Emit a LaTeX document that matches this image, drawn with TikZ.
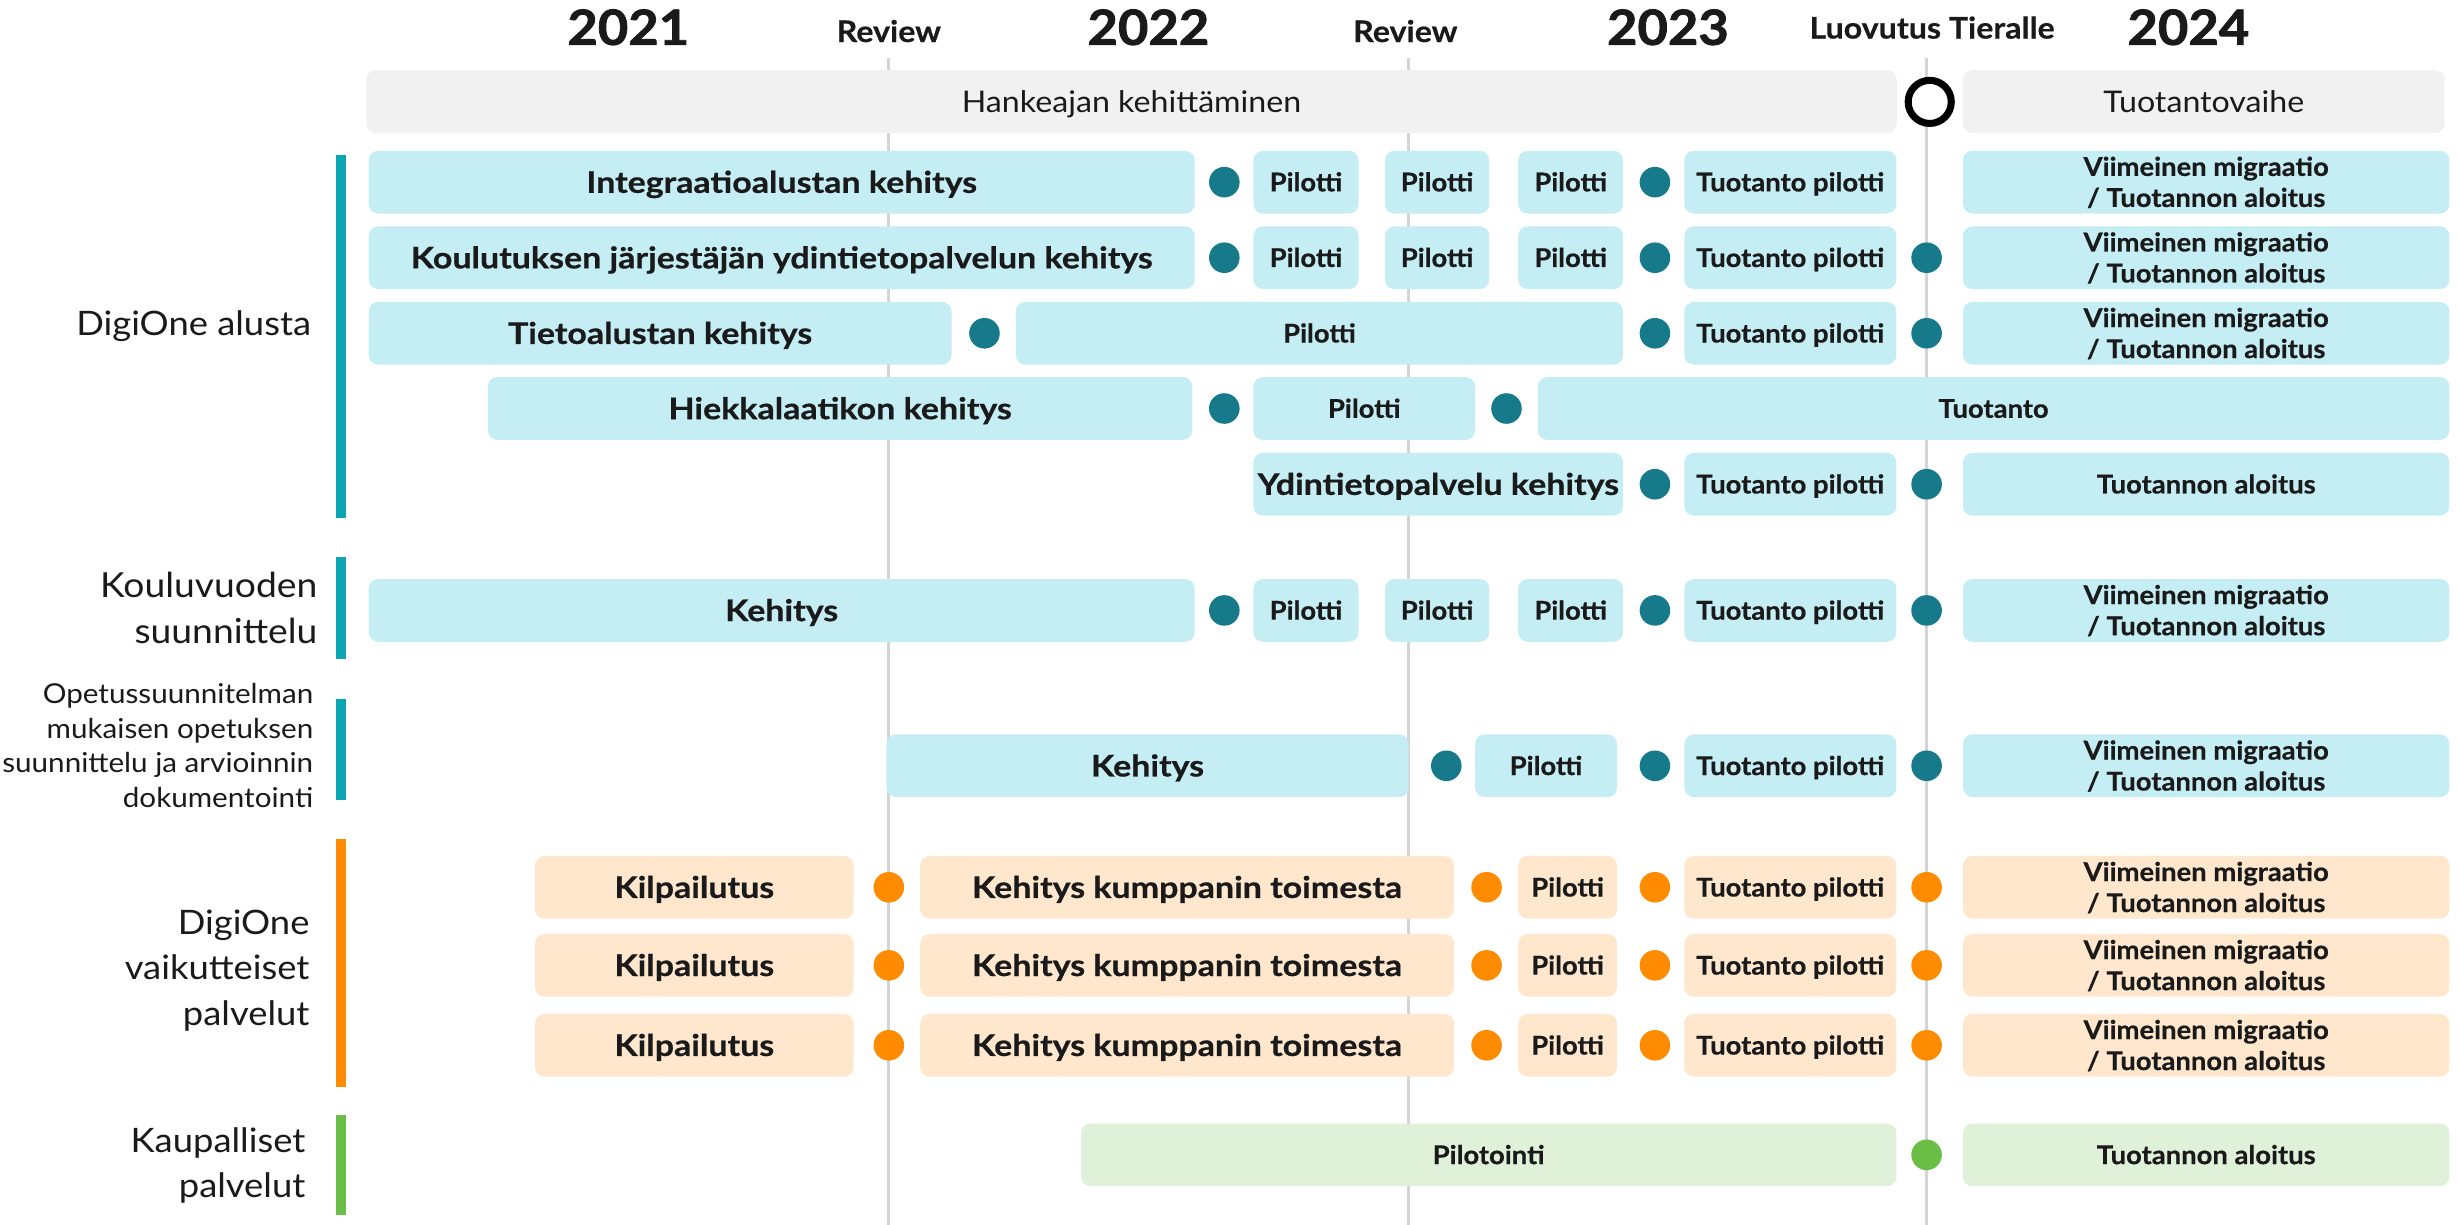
\documentclass[tikz,border=0pt]{standalone}
\usepackage{fontspec}
\setmainfont{Lato}[FakeStretch=1.08]
\newfontfamily\smallfont{Lato}[FakeStretch=1.06, BoldFeatures={FakeBold=0.5}]
\newfontfamily\bigfont{Lato}[FakeStretch=1.14, BoldFeatures={FakeBold=0.6}]
\newfontfamily\revfont{Lato}[FakeStretch=1.08, BoldFeatures={FakeBold=0.5}]
\newfontfamily\yearfont{Lato}[FakeStretch=1.08, BoldFeatures={FakeBold=1.6}]
\definecolor{barteal}{HTML}{0BA6B4}
\definecolor{dotteal}{HTML}{167A8B}
\definecolor{lblue}{HTML}{C4EDF4}
\definecolor{orng}{HTML}{FF8C00}
\definecolor{lorng}{HTML}{FEE7CD}
\definecolor{grn}{HTML}{6BBE45}
\definecolor{lgrn}{HTML}{E0F1DA}
\definecolor{lgray}{HTML}{F1F1F1}
\definecolor{gline}{HTML}{D4D4D4}
\definecolor{txt}{HTML}{1A1A1A}
\newcommand\bx[6]{\node[#5, minimum width={(#3)-(#2)}, anchor=west] (#1) at (#2,#4) {#6};}
\newcommand\dt[4]{\node[#4] (#1) at (#2,#3) {};}
\newcommand\ctwo[1]{\vbox{\halign{\hfil##\hfil\cr#1\crcr}}}
\newcommand\rlns[1]{\vbox{\halign{\hfil##\cr#1\crcr}}}
\begin{document}
\begin{tikzpicture}[x=1pt,y=-1pt,
  box/.style={rectangle, rounded corners=6pt, inner sep=0pt, outer sep=0pt, minimum height=40pt, text=txt, text depth=0pt},
  bsmall/.style={box, font=\smallfont\bfseries\fontsize{16.5}{19.8}\selectfont, text height=11.8pt},
  bbig/.style={box, font=\bigfont\bfseries\fontsize{19}{22}\selectfont, text height=13.6pt},
  two/.style={text height=31.6pt},
  bs/.style={bsmall, fill=lblue}, bb/.style={bbig, fill=lblue},
  os/.style={bsmall, fill=lorng}, ob/.style={bbig, fill=lorng},
  gs/.style={bsmall, fill=lgrn},
  hdr/.style={box, fill=lgray, font=\fontsize{19}{22}\selectfont, text height=13.6pt},
  dot/.style={circle, inner sep=0pt, outer sep=0pt, minimum size=19.5pt},
  td/.style={dot, fill=dotteal}, od/.style={dot, fill=orng}, gd/.style={dot, fill=grn},
  year/.style={font=\yearfont\bfseries\fontsize{31}{34}\selectfont, text=txt, inner sep=0pt, anchor=base},
  rev/.style={font=\revfont\bfseries\fontsize{19}{22}\selectfont, text=txt, inner sep=0pt, anchor=base},
  lab/.style={text=txt, inner sep=0pt, anchor=base east},
  grid/.style={draw=gline, line width=2pt}
]
\useasboundingbox (0,0) rectangle (1568,781.4);
% header
\node[year] (y21) at (400.8,28.6) {2021};
\node[year] (y22) at (732.6,28.6) {2022};
\node[year] (y23) at (1064,28.6) {2023};
\node[year] (y24) at (1396,28.6) {2024};
\node[rev] (rv1) at (567,26.8) {Review};
\node[rev] (rv2) at (896.5,26.8) {Review};
\node[rev] (lt) at (1232.5,24.6) {Luovutus Tieralle};
% grid lines
\coordinate (g1a) at (567,37); \coordinate (g1b) at (567,781.4);
\coordinate (g2a) at (898.5,37); \coordinate (g2b) at (898.5,781.4);
\coordinate (g3a) at (1229,37); \coordinate (g3b) at (1229,781.4);
\draw[grid] (g1a) -- (g1b);
\draw[grid] (g2a) -- (g2b);
\draw[grid] (g3a) -- (g3b);
% phase bars
\bx{hk}{233.7}{1210}{64.8}{hdr}{Hankeajan kehittäminen}
\bx{tv}{1252.2}{1559.5}{64.8}{hdr}{Tuotantovaihe}
\node[circle, draw=black, line width=4.5pt, fill=white, minimum size=27.5pt, inner sep=0pt] (lc) at (1231,65) {};
% group bars
\fill[barteal] (214.2,98.9) rectangle (221,330.6);
\fill[barteal] (214.2,355.6) rectangle (221,420.3);
\fill[barteal] (214.2,445.6) rectangle (221,510.3);
\fill[orng] (214.2,535.4) rectangle (221,693.4);
\fill[grn] (214.2,711) rectangle (221,775);
% group labels
\node[lab, font=\fontsize{21.5}{29}\selectfont] (l1) at (198.7,214.2) {DigiOne alusta};
\node[lab, font=\fontsize{22}{29.2}\selectfont] (l2) at (202.6,410.5) {\rlns{Kouluvuoden\cr suunnittelu}};
\node[lab, font=\fontsize{17.5}{22}\selectfont] (l3) at (200,515) {\rlns{Opetussuunnitelman\cr mukaisen opetuksen\cr suunnittelu ja arvioinnin\cr dokumentointi}};
\node[lab, font=\fontsize{21.5}{29}\selectfont] (l4) at (197.6,653.9) {\rlns{DigiOne\cr vaikutteiset\cr palvelut}};
\node[lab, font=\fontsize{21.5}{28.4}\selectfont] (l5) at (195,763.9) {\rlns{Kaupalliset\cr palvelut}};
% row 1
\bx{r1a}{235.2}{762.1}{116.2}{bb}{Integraatioalustan kehitys}
\dt{r1d1}{781}{116.2}{td}
\bx{r1p1}{799.6}{866.6}{116.2}{bs}{Pilotti}
\bx{r1p2}{883.5}{950}{116.2}{bs}{Pilotti}
\bx{r1p3}{968.5}{1035.4}{116.2}{bs}{Pilotti}
\dt{r1d2}{1055.7}{116.2}{td}
\bx{r1t}{1074.4}{1209.7}{116.2}{bs}{Tuotanto pilotti}
\bx{r1v}{1252.2}{1562.5}{116.2}{bs,two}{\ctwo{Viimeinen migraatio\cr / Tuotannon aloitus}}
% row 2
\bx{r2a}{235.2}{762.1}{164.4}{bb}{Koulutuksen järjestäjän ydintietopalvelun kehitys}
\dt{r2d1}{781}{164.4}{td}
\bx{r2p1}{799.6}{866.6}{164.4}{bs}{Pilotti}
\bx{r2p2}{883.5}{950}{164.4}{bs}{Pilotti}
\bx{r2p3}{968.5}{1035.4}{164.4}{bs}{Pilotti}
\dt{r2d2}{1055.7}{164.4}{td}
\bx{r2t}{1074.4}{1209.7}{164.4}{bs}{Tuotanto pilotti}
\dt{r2d3}{1229}{164.4}{td}
\bx{r2v}{1252.2}{1562.5}{164.4}{bs,two}{\ctwo{Viimeinen migraatio\cr / Tuotannon aloitus}}
% row 3
\bx{r3a}{235.2}{607}{212.6}{bb}{Tietoalustan kehitys}
\dt{r3d1}{628}{212.6}{td}
\bx{r3p}{648}{1035.4}{212.6}{bs}{Pilotti}
\dt{r3d2}{1055.7}{212.6}{td}
\bx{r3t}{1074.4}{1209.7}{212.6}{bs}{Tuotanto pilotti}
\dt{r3d3}{1229}{212.6}{td}
\bx{r3v}{1252.2}{1562.5}{212.6}{bs,two}{\ctwo{Viimeinen migraatio\cr / Tuotannon aloitus}}
% row 4
\bx{r4a}{311.2}{760.6}{260.6}{bb}{Hiekkalaatikon kehitys}
\dt{r4d1}{781}{260.6}{td}
\bx{r4p}{799.6}{941}{260.6}{bs}{Pilotti}
\dt{r4d2}{961}{260.6}{td}
\bx{r4t}{981}{1562.5}{260.6}{bs}{Tuotanto}
% row 5
\bx{r5a}{799.6}{1035.4}{308.9}{bb}{Ydintietopalvelu kehitys}
\dt{r5d1}{1055.7}{308.9}{td}
\bx{r5t}{1074.4}{1209.7}{308.9}{bs}{Tuotanto pilotti}
\dt{r5d2}{1229}{308.9}{td}
\bx{r5v}{1252.2}{1562.5}{308.9}{bs}{Tuotannon aloitus}
% row 6
\bx{r6a}{235.2}{762.1}{389.4}{bb}{Kehitys}
\dt{r6d1}{781}{389.4}{td}
\bx{r6p1}{799.6}{866.6}{389.4}{bs}{Pilotti}
\bx{r6p2}{883.5}{950}{389.4}{bs}{Pilotti}
\bx{r6p3}{968.5}{1035.4}{389.4}{bs}{Pilotti}
\dt{r6d2}{1055.7}{389.4}{td}
\bx{r6t}{1074.4}{1209.7}{389.4}{bs}{Tuotanto pilotti}
\dt{r6d3}{1229}{389.4}{td}
\bx{r6v}{1252.2}{1562.5}{389.4}{bs,two}{\ctwo{Viimeinen migraatio\cr / Tuotannon aloitus}}
% row 7
\bx{r7a}{565.5}{898.6}{488.5}{bb}{Kehitys}
\dt{r7d1}{922.6}{488.5}{td}
\bx{r7p}{941}{1031.5}{488.5}{bs}{Pilotti}
\dt{r7d2}{1055.7}{488.5}{td}
\bx{r7t}{1074.4}{1209.7}{488.5}{bs}{Tuotanto pilotti}
\dt{r7d3}{1229}{488.5}{td}
\bx{r7v}{1252.2}{1562.5}{488.5}{bs,two}{\ctwo{Viimeinen migraatio\cr / Tuotannon aloitus}}
% rows 8-10
\foreach \i/\yy in {8/566, 9/615.8, 10/666.8}{
  \bx{r\i a}{341.3}{544.5}{\yy}{ob}{Kilpailutus}
  \dt{r\i d1}{567}{\yy}{od}
  \bx{r\i k}{587}{927.5}{\yy}{ob}{Kehitys kumppanin toimesta}
  \dt{r\i d2}{948.3}{\yy}{od}
  \bx{r\i p}{968.5}{1031.5}{\yy}{os}{Pilotti}
  \dt{r\i d3}{1055.7}{\yy}{od}
  \bx{r\i t}{1074.4}{1209.7}{\yy}{os}{Tuotanto pilotti}
  \dt{r\i d4}{1229}{\yy}{od}
  \bx{r\i v}{1252.2}{1562.5}{\yy}{os,two}{\ctwo{Viimeinen migraatio\cr / Tuotannon aloitus}}
}
% row 11
\bx{r11a}{689.6}{1209.7}{736.7}{gs}{Pilotointi}
\dt{r11d}{1229}{736.7}{gd}
\bx{r11v}{1252.2}{1562.5}{736.7}{gs}{Tuotannon aloitus}
\end{tikzpicture}
\end{document}
